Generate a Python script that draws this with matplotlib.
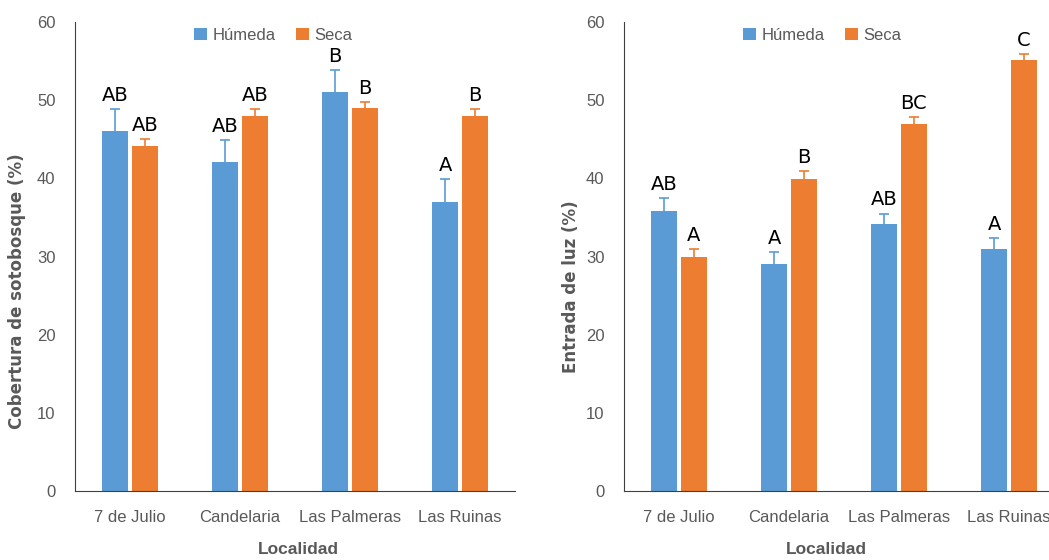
import numpy as np
import matplotlib
matplotlib.use("Agg")
import matplotlib.pyplot as plt

plt.rcParams['font.family'] = ['Liberation Sans', 'DejaVu Sans']

localidades = ["7 de Julio", "Candelaria", "Las Palmeras", "Las Ruinas"]
series = ["Húmeda", "Seca"]
colores = ["#5B9BD5", "#ED7D31"]

# cobertura de sotobosque (%)
cob_humeda = [46.0, 42.1, 51.0, 37.0]
cob_seca = [44.1, 48.0, 49.0, 48.0]
cob_err_humeda = [2.9, 2.8, 2.9, 2.9]
cob_err_seca = [0.9, 0.9, 0.8, 0.9]
cob_letras_humeda = ["AB", "AB", "B", "A"]
cob_letras_seca = ["AB", "AB", "B", "B"]

# entrada de luz (%)
luz_humeda = [35.8, 29.0, 34.1, 30.9]
luz_seca = [30.0, 39.9, 47.0, 55.1]
luz_err_humeda = [1.7, 1.6, 1.4, 1.5]
luz_err_seca = [1.0, 1.0, 0.8, 0.8]
luz_letras_humeda = ["AB", "A", "AB", "A"]
luz_letras_seca = ["A", "B", "BC", "C"]

gris = "#595959"


def panel(ax, hum, sec, err_h, err_s, let_h, let_s, ylabel, ylab_xy, xlab_xy):
    x = np.arange(len(localidades))
    w = 0.236
    off = 0.135
    cap = 0.045
    for i, (vals, errs, letras) in enumerate([(hum, err_h, let_h), (sec, err_s, let_s)]):
        pos = x + (-off if i == 0 else off)
        vals = np.array(vals)
        errs = np.array(errs)
        ax.bar(pos, vals, width=w, color=colores[i], label=series[i], zorder=2)
        # solo la barra de error superior
        ax.vlines(pos, vals, vals + errs, color=colores[i], lw=1.2, zorder=3)
        ax.hlines(vals + errs, pos - cap, pos + cap, color=colores[i], lw=1.2, zorder=3)
        for p, v, e, t in zip(pos, vals, errs, letras):
            ax.annotate(t, (p, v + e), xytext=(0, 3), textcoords="offset points",
                        ha="center", va="bottom", fontsize=14, color="black",
                        family=["DejaVu Sans"])
    ax.set_xlim(-0.5, 3.5)
    ax.set_ylim(0, 60)
    ax.set_yticks(range(0, 61, 10))
    ax.set_xticks(x)
    ax.set_xticklabels(localidades)
    ax.tick_params(length=0, labelsize=12, colors=gris)
    ax.tick_params(axis="x", pad=14)
    ax.tick_params(axis="y", pad=14)
    for s in ["top", "right"]:
        ax.spines[s].set_visible(False)
    ax.spines["left"].set_color("#404040")
    ax.spines["bottom"].set_color("#404040")
    ax.set_ylabel(ylabel, fontsize=12, fontweight="bold", color=gris,
                  family=["DejaVu Sans"])
    ax.yaxis.set_label_coords(*ylab_xy)
    ax.set_xlabel("Localidad", fontsize=12.5, fontweight="bold", color=gris)
    ax.xaxis.set_label_coords(*xlab_xy)
    ax.legend(loc="center", bbox_to_anchor=(0.45, 0.972), ncol=2, frameon=False,
              fontsize=12, handlelength=0.8, handleheight=0.8, handletextpad=0.3,
              columnspacing=1.2, labelcolor=gris)


fig = plt.figure(figsize=(10.49, 5.60), dpi=100)
ax1 = fig.add_axes([0.0715, 0.1232, 0.4194, 0.8375])
ax2 = fig.add_axes([0.5949, 0.1232, 0.4194, 0.8375])

panel(ax1, cob_humeda, cob_seca, cob_err_humeda, cob_err_seca,
      cob_letras_humeda, cob_letras_seca, "Cobertura de sotobosque (%)",
      (-0.112, 0.426), (0.507, -0.108))
panel(ax2, luz_humeda, luz_seca, luz_err_humeda, luz_err_seca,
      luz_letras_humeda, luz_letras_seca, "Entrada de luz (%)",
      (-0.10, 0.435), (0.459, -0.108))

fig.savefig("out.png", dpi=100)
